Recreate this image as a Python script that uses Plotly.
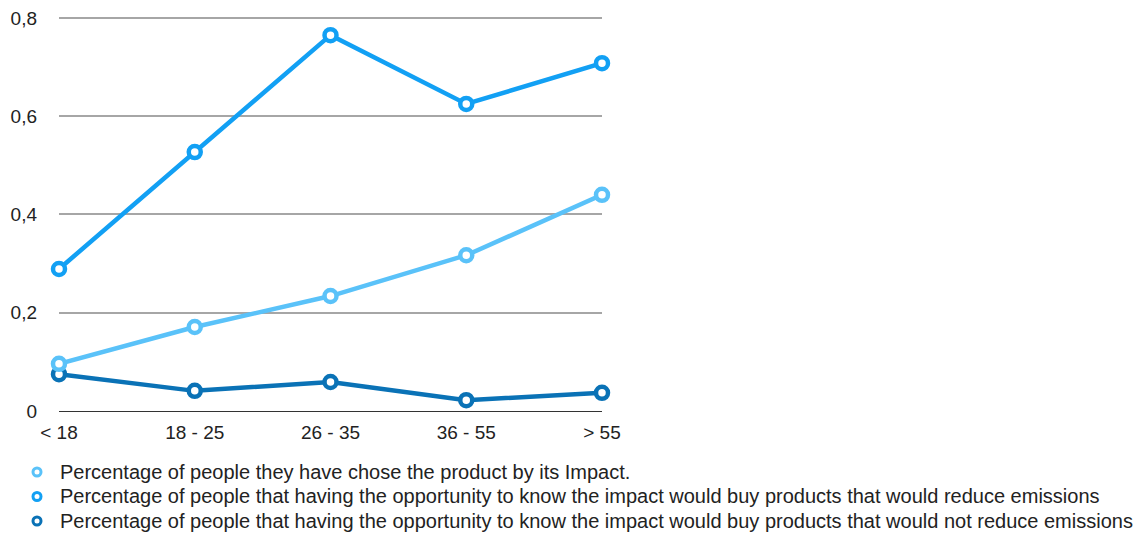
import plotly.graph_objects as go

age_groups = ["< 18", "18 - 25", "26 - 35", "36 - 55", "> 55"]

chose_by_impact = [0.096, 0.171, 0.234, 0.317, 0.440]
would_reduce = [0.289, 0.527, 0.765, 0.625, 0.708]
would_not_reduce = [0.075, 0.041, 0.059, 0.022, 0.037]

y_ticks = [0, 0.2, 0.4, 0.6, 0.8]

series_names = [
    "Percentage of people they have chose the product by its Impact.",
    "Percentage of people that having the opportunity to know the impact would buy products that would reduce emissions",
    "Percentage of people that having the opportunity to know the impact would buy products that would not reduce emissions",
]
series_values = [chose_by_impact, would_reduce, would_not_reduce]
series_colors = ["#5ac2f9", "#12a0f4", "#0a72b6"]

FONT = "Liberation Sans, Arial, Helvetica, sans-serif"
TEXT_COLOR = "#222222"

W, H = 1145, 535
M_L, M_R, M_T, M_B = 59, 543, 15, 124
PLOT_W = W - M_L - M_R
PLOT_H = H - M_T - M_B

fig = go.Figure()

# draw back-to-front so the dark series sits under the light one at "< 18"
for name, vals, col in reversed(list(zip(series_names, series_values, series_colors))):
    fig.add_trace(go.Scatter(
        x=age_groups, y=vals, mode="lines+markers", name=name,
        line=dict(color=col, width=4.5),
        marker=dict(symbol="circle", size=12, color="white",
                    line=dict(color=col, width=4.5)),
        cliponaxis=False, showlegend=False,
    ))

# key below the chart: ring marker + series name per row
KEY_MARK_X = 37
KEY_TEXT_X = 58
KEY_ROW_Y = [472, 496.5, 521]
for name, col, row_y in zip(series_names, series_colors, KEY_ROW_Y):
    px_to_paper_x = (KEY_MARK_X - M_L) / PLOT_W
    py = (H - M_B - row_y) / PLOT_H
    fig.add_shape(
        type="circle", xref="paper", yref="paper",
        xsizemode="pixel", ysizemode="pixel",
        xanchor=px_to_paper_x, yanchor=py,
        x0=-4, x1=4, y0=-4, y1=4,
        line=dict(color=col, width=3), fillcolor="white",
    )
    fig.add_annotation(
        xref="paper", yref="paper",
        x=(KEY_TEXT_X - M_L) / PLOT_W, y=py,
        xanchor="left", yanchor="middle", showarrow=False,
        text=name, font=dict(family=FONT, size=20, color=TEXT_COLOR),
    )

fig.update_layout(
    width=W, height=H,
    margin=dict(l=M_L, r=M_R, t=M_T, b=M_B, autoexpand=False),
    plot_bgcolor="white", paper_bgcolor="white",
    separators=",.",
    showlegend=False,
    font=dict(family=FONT, size=19, color=TEXT_COLOR),
    xaxis=dict(
        type="category", range=[0, 4], showgrid=False, zeroline=False,
        showline=False, ticks="", tickfont=dict(size=19, color=TEXT_COLOR),
        ticklabelstandoff=8,
    ),
    yaxis=dict(
        range=[0, 0.806], tickvals=y_ticks,
        showgrid=True, gridcolor="#a6a6a6", gridwidth=1.6,
        zeroline=True, zerolinecolor="#333333", zerolinewidth=1.4,
        showline=False, ticks="", tickfont=dict(size=19, color=TEXT_COLOR),
        ticklabelstandoff=21,
    ),
)

fig.write_html("out.html")
